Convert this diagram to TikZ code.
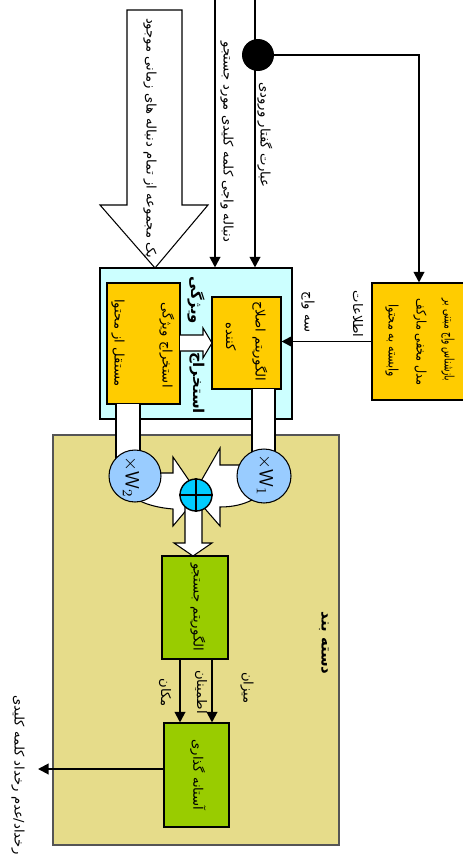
\documentclass[tikz,border=0pt]{standalone}
\usepackage{fontspec}
\newfontfamily\fafont[Script=Arabic]{DejaVu Sans}
\usetikzlibrary{arrows.meta,fit}
\TeXXeTstate=1
\newcommand\myrtl[1]{\beginR #1\endR}
\definecolor{gold}{HTML}{FFCC00}
\definecolor{cyanbg}{HTML}{CCFFFF}
\definecolor{khaki}{HTML}{E6DC8A}
\definecolor{khakiborder}{HTML}{555555}
\definecolor{grn}{HTML}{99CC00}
\definecolor{wblue}{HTML}{99CCFF}
\definecolor{sumblue}{HTML}{00CCFF}
\begin{document}
\begin{tikzpicture}[x=0.02cm,y=-0.02cm,
  arr/.style={line width=1.1pt,-{Triangle[length=6pt,width=6pt]}},
  box/.style={draw=black,line width=0.6pt,inner sep=0pt},
  fa/.style={font=\fafont\fontsize{7.5}{9}\selectfont,rotate=-90,inner sep=0pt},
  fab/.style={fa,font=\fafont\bfseries\fontsize{8.5}{10}\selectfont},
  hollow/.style={draw=black,fill=white,line width=0.6pt,line join=miter},
  wlab/.style={rotate=-90,font=\sffamily\fontsize{11}{12}\selectfont,inner sep=0pt}]
\useasboundingbox (0,0) rectangle (463,856);
% big hollow input arrow
\draw[hollow] (127,10) -- (182,10) -- (182,205) -- (208,205) -- (155,268) -- (100,205) -- (127,205) -- cycle;
% main boxes
\node[box,fill=cyanbg,fit={(100,268) (292,419)}] (cyan) {};
\node[box,fill=khaki,draw=khakiborder,fit={(53,435) (339,845)}] (cls) {};
\node[box,fill=gold,fit={(107,283) (180,404)}] (fe) {};
\node[box,fill=gold,fit={(212,297) (281,389)}] (alg) {};
\node[box,fill=gold,fit={(372,283) (466,400)}] (hmm) {};
\node[box,fill=grn,fit={(162,556) (228,659)}] (srch) {};
\node[box,fill=grn,fit={(164,723) (229,827)}] (thr) {};
% input lines
\coordinate (in2) at (215,0);
\coordinate (in3) at (255,0);
\draw[arr] (in2) -- (in2 |- cyan.north);
\draw[arr] (in3) -- (in3 |- cyan.north);
\node[circle,fill=black,minimum size=0.64cm,inner sep=0pt] (dot) at (258,55) {};
\draw[arr] (dot.center) -| (hmm.north);
\draw[arr] (hmm.west) -- (hmm.west -| alg.east);
% hollow arrow fe -> alg
\draw[hollow] (180,335) -- (203,335) -- (203,328) -- (212,343) -- (203,358) -- (203,351) -- (180,351);
% white strips
\fill[white] (116,404) rectangle (140,476);
\draw[line width=0.6pt] (116,404) -- (116,476) (140,404) -- (140,476);
\fill[white] (252,389) rectangle (275,476);
\draw[line width=0.6pt] (252,389) -- (252,476) (275,389) -- (275,476);
% bands with arrowheads into the summing node
\draw[hollow] (135,473) -- (173,473) -- (173,457) -- (199,495) -- (173,526) -- (173,509) .. controls (160,508) and (148,505) .. (140,501) -- (135,476) -- cycle;
\draw[hollow] (264,465) -- (220,465) -- (220,448) -- (193,495) -- (220,526) -- (220,507) .. controls (234,507) and (244,504) .. (252,500) -- (264,476) -- cycle;
% down arrow to search
\draw[hollow] (185,495) -- (185,543) -- (174,543) -- (193,556) -- (212,543) -- (202,543) -- (202,495);
% circles
\node[circle,draw,line width=0.6pt,fill=wblue,minimum size=1.04cm,inner sep=0pt] (w2) at (135,476) {};
\node[circle,draw,line width=0.6pt,fill=wblue,minimum size=1.08cm,inner sep=0pt] (w1) at (264,476) {};
\node[circle,draw,line width=0.8pt,fill=sumblue,minimum size=0.64cm,inner sep=0pt] (sum) at (196,495) {};
\draw[line width=0.8pt] (sum.north) -- (sum.south) (sum.west) -- (sum.east);
\node[wlab] (w1l) at (265,475) {$\times$W$_1$};
\node[wlab] (w2l) at (131,477) {$\times$W$_2$};
% search -> threshold
\coordinate (a1) at (180,0);
\coordinate (a2) at (212,0);
\draw[arr] (srch.south -| a1) -- (thr.north -| a1);
\draw[arr] (srch.south -| a2) -- (thr.north -| a2);
\coordinate (out) at (38,769);
\draw[arr] (thr.west |- out) -- (out);
% texts
\node[fa] (t1) at (150,138) {\myrtl{یک مجموعه از تمام دنباله های زمانی موجود}};
\node[fa] (t2) at (227,142) {\myrtl{دنباله واجی کلمه کلیدی مورد جستجو}};
\node[fa] (t3) at (265,135) {\myrtl{عبارت گفتار ورودی}};
\node[fa] (h1) at (448,340) {\scalebox{0.68}[1]{\myrtl{بازشناس واج مبتنی بر}}};
\node[fa] (h2) at (420,342) {\scalebox{0.85}[1]{\myrtl{مدل مخفی مارکف}}};
\node[fa] (h3) at (392,341) {\scalebox{0.85}[1]{\myrtl{وابسته به محتوا}}};
\node[fa] (i1) at (358,314) {\myrtl{اطلاعات}};
\node[fa] (i2) at (308,312) {\myrtl{سه واج}};
\node[fa] (f1) at (167,345) {\myrtl{استخراج ویژگی}};
\node[fa] (f2) at (118,343) {\myrtl{مستقل از محتوا}};
\node[fa] (g1) at (260,341) {\myrtl{الگوریتم اصلاح}};
\node[fa] (g2) at (231,337) {\myrtl{کننده}};
\node[fab] (b1) at (196,300) {\myrtl{ویژگی}};
\node[fab] (b2) at (197,383) {\myrtl{استخراج}};
\node[fab] (cl) at (324,643) {\myrtl{دسته بند}};
\node[fa] (s1) at (198,607) {\myrtl{الگوریتم جستجو}};
\node[fa] (s2) at (198,775) {\myrtl{آستانه گذاری}};
\node[fa] (m1) at (165,693) {\myrtl{مکان}};
\node[fa] (m2) at (201,692) {\myrtl{اطمینان}};
\node[fa] (m3) at (247,688) {\myrtl{میزان}};
\node[fa,anchor=west] (o1) at (18,695) {\myrtl{رخداد/عدم رخداد کلمه کلیدی}};
\end{tikzpicture}
\end{document}
